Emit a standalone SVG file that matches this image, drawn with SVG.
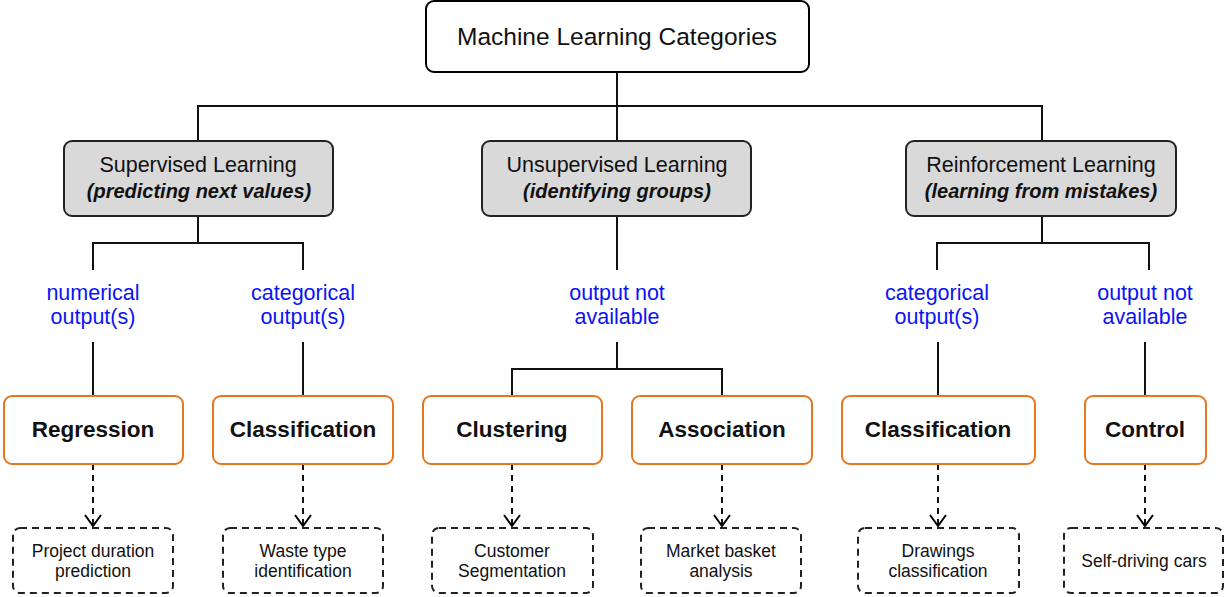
<svg xmlns="http://www.w3.org/2000/svg" width="1225" height="597" viewBox="0 0 1225 597">
  <defs>
    <!-- open V arrowhead; drawn pointing along +x so orient="auto" turns it to the line direction -->
    <marker id="vhead" viewBox="0 0 16 20" refX="15" refY="10" markerWidth="16" markerHeight="20" markerUnits="userSpaceOnUse" orient="auto">
      <path d="M4 2 L15 10 L4 18" fill="none" stroke="#000" stroke-width="2"/>
    </marker>
    <style>
      .root { fill: #fff; stroke: #000; stroke-width: 2; }
      .cat { fill: #d9d9d9; stroke: #222; stroke-width: 2; }
      .algo { fill: #fff; stroke: #e8761e; stroke-width: 2; }
      .app { fill: #fff; stroke: #222; stroke-width: 2; stroke-dasharray: 7 5; }
      .wire { fill: none; stroke: #111; stroke-width: 2; }
      .dash { fill: none; stroke: #111; stroke-width: 2; stroke-dasharray: 6 5; }
      text { font-family: "Liberation Sans", Arial, sans-serif; text-anchor: middle; fill: #111; }
      .t-root { font-size: 24.5px; }
      .t-cat { font-size: 21.5px; }
      .t-sub { font-size: 20px; font-weight: bold; font-style: italic; }
      .t-out { font-size: 21.5px; fill: #0a14f5; }
      .t-algo { font-size: 22.5px; font-weight: bold; }
      .t-app { font-size: 17.5px; }
    </style>
  </defs>

  <!-- connectors -->
  <g id="connectors">
    <path class="wire" d="M617 72 V106 M198 140 V106 H1042 V140 M617 106 V140"/>
    <!-- supervised branch -->
    <path class="wire" d="M198 216 V243 M93 270 V243 H303 V270"/>
    <path class="wire" d="M93 342 V396 M303 342 V396"/>
    <!-- unsupervised branch -->
    <path class="wire" d="M617 216 V270 M617 342 V369 M512 396 V369 H722 V396"/>
    <!-- reinforcement branch -->
    <path class="wire" d="M1042 216 V243 M937 270 V243 H1149 V270"/>
    <path class="wire" d="M938 342 V396 M1145 342 V396"/>
    <!-- algorithm to application -->
    <path class="dash" d="M93 464 V526" marker-end="url(#vhead)"/>
    <path class="dash" d="M303 464 V526" marker-end="url(#vhead)"/>
    <path class="dash" d="M512 464 V526" marker-end="url(#vhead)"/>
    <path class="dash" d="M722 464 V526" marker-end="url(#vhead)"/>
    <path class="dash" d="M938 464 V526" marker-end="url(#vhead)"/>
    <path class="dash" d="M1145 464 V526" marker-end="url(#vhead)"/>
  </g>

  <g id="root">
    <rect class="root" x="426" y="1" width="383" height="71" rx="8"/>
    <text class="t-root" x="617" y="45">Machine Learning Categories</text>
  </g>

  <g id="supervised">
    <rect class="cat" x="64" y="141" width="269" height="75" rx="8"/>
    <text class="t-cat" x="198" y="172">Supervised Learning</text>
    <text class="t-sub" x="199" y="198">(predicting next values)</text>
  </g>
  <g id="unsupervised">
    <rect class="cat" x="482" y="141" width="269" height="75" rx="8"/>
    <text class="t-cat" x="617" y="172">Unsupervised Learning</text>
    <text class="t-sub" x="617" y="198">(identifying groups)</text>
  </g>
  <g id="reinforcement">
    <rect class="cat" x="906" y="141" width="270" height="75" rx="8"/>
    <text class="t-cat" x="1041" y="172">Reinforcement Learning</text>
    <text class="t-sub" x="1041" y="198">(learning from mistakes)</text>
  </g>

  <!-- output labels -->
  <g id="label-numerical">
    <text class="t-out" x="93" y="300">numerical</text>
    <text class="t-out" x="93" y="324">output(s)</text>
  </g>
  <g id="label-categorical-sup">
    <text class="t-out" x="303" y="300">categorical</text>
    <text class="t-out" x="303" y="324">output(s)</text>
  </g>
  <g id="label-unavailable-unsup">
    <text class="t-out" x="617" y="300">output not</text>
    <text class="t-out" x="617" y="324">available</text>
  </g>
  <g id="label-categorical-rl">
    <text class="t-out" x="937" y="300">categorical</text>
    <text class="t-out" x="937" y="324">output(s)</text>
  </g>
  <g id="label-unavailable-rl">
    <text class="t-out" x="1145" y="300">output not</text>
    <text class="t-out" x="1145" y="324">available</text>
  </g>

  <!-- algorithm families -->
  <g id="regression">
    <rect class="algo" x="4" y="396" width="179" height="68" rx="8"/>
    <text class="t-algo" x="93" y="437">Regression</text>
  </g>
  <g id="classification-sup">
    <rect class="algo" x="213" y="396" width="180" height="68" rx="8"/>
    <text class="t-algo" x="303" y="437">Classification</text>
  </g>
  <g id="clustering">
    <rect class="algo" x="423" y="396" width="179" height="68" rx="8"/>
    <text class="t-algo" x="512" y="437">Clustering</text>
  </g>
  <g id="association">
    <rect class="algo" x="632" y="396" width="180" height="68" rx="8"/>
    <text class="t-algo" x="722" y="437">Association</text>
  </g>
  <g id="classification-rl">
    <rect class="algo" x="842" y="396" width="193" height="68" rx="8"/>
    <text class="t-algo" x="938" y="437">Classification</text>
  </g>
  <g id="control">
    <rect class="algo" x="1085" y="396" width="121" height="68" rx="8"/>
    <text class="t-algo" x="1145" y="437">Control</text>
  </g>

  <!-- example applications -->
  <g id="app-project">
    <rect class="app" x="13" y="528" width="160" height="65" rx="7"/>
    <text class="t-app" x="93" y="557">Project duration</text>
    <text class="t-app" x="93" y="577">prediction</text>
  </g>
  <g id="app-waste">
    <rect class="app" x="223" y="528" width="160" height="65" rx="7"/>
    <text class="t-app" x="303" y="557">Waste type</text>
    <text class="t-app" x="303" y="577">identification</text>
  </g>
  <g id="app-customer">
    <rect class="app" x="432" y="528" width="161" height="65" rx="7"/>
    <text class="t-app" x="512" y="557">Customer</text>
    <text class="t-app" x="512" y="577">Segmentation</text>
  </g>
  <g id="app-market">
    <rect class="app" x="641" y="528" width="160" height="65" rx="7"/>
    <text class="t-app" x="721" y="557">Market basket</text>
    <text class="t-app" x="721" y="577">analysis</text>
  </g>
  <g id="app-drawings">
    <rect class="app" x="858" y="528" width="161" height="65" rx="7"/>
    <text class="t-app" x="938" y="557">Drawings</text>
    <text class="t-app" x="938" y="577">classification</text>
  </g>
  <g id="app-selfdriving">
    <rect class="app" x="1064" y="528" width="159" height="65" rx="7"/>
    <text class="t-app" x="1144" y="567">Self-driving cars</text>
  </g>
</svg>
